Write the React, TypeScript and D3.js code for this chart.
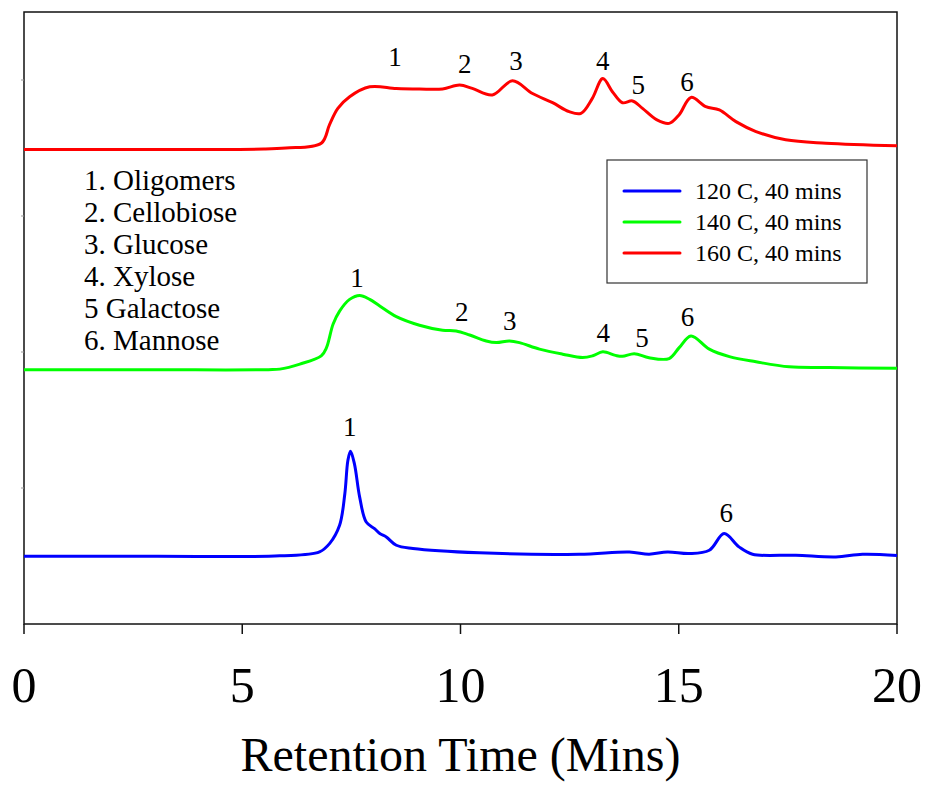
import React from "react";
import * as d3 from "d3";

// ---- data (retention time in minutes, detector signal in stacked units) ----
const redT = [0, 3, 5.5, 6.0, 6.81, 7.0, 7.19, 7.46, 7.92, 8.53, 9.06, 9.59, 9.98, 10.27, 10.73, 11.19, 11.65, 12.11, 12.49, 12.76, 13.02, 13.26, 13.48, 13.71, 13.94, 14.17, 14.49, 14.78, 15.01, 15.28, 15.62, 15.93, 16.31, 16.77, 17.45, 18.37, 20];
const redV = [3.489, 3.489, 3.492, 3.50, 3.535, 3.672, 3.791, 3.877, 3.950, 3.938, 3.934, 3.934, 3.963, 3.938, 3.890, 3.994, 3.901, 3.833, 3.767, 3.755, 3.865, 4.011, 3.914, 3.833, 3.846, 3.791, 3.709, 3.681, 3.745, 3.872, 3.804, 3.780, 3.694, 3.621, 3.560, 3.535, 3.516];

const greenT = [0, 3, 5.6, 5.86, 6.32, 6.81, 6.93, 7.08, 7.23, 7.46, 7.69, 7.92, 8.15, 8.53, 9.06, 9.59, 9.90, 10.21, 10.59, 10.82, 11.12, 11.35, 11.81, 12.34, 12.80, 13.03, 13.26, 13.55, 13.71, 13.98, 14.32, 14.78, 15.01, 15.28, 15.70, 16.16, 16.77, 17.53, 18.44, 20];
const greenV = [1.869, 1.869, 1.870, 1.874, 1.911, 1.972, 2.032, 2.204, 2.301, 2.387, 2.416, 2.387, 2.338, 2.260, 2.197, 2.160, 2.155, 2.125, 2.081, 2.069, 2.081, 2.069, 2.021, 1.984, 1.959, 1.972, 2.001, 1.975, 1.968, 1.988, 1.958, 1.952, 2.032, 2.118, 2.021, 1.966, 1.928, 1.891, 1.886, 1.880];

const blueT = [0, 3, 5.86, 6.77, 7.0, 7.23, 7.35, 7.42, 7.48, 7.57, 7.69, 7.84, 8.03, 8.15, 8.30, 8.53, 8.91, 10.43, 12.72, 13.87, 14.32, 14.74, 15.24, 15.70, 16.04, 16.38, 16.69, 17.68, 18.60, 19.21, 20];
const blueV = [0.498, 0.498, 0.501, 0.530, 0.591, 0.726, 0.958, 1.202, 1.270, 1.178, 0.933, 0.750, 0.701, 0.665, 0.640, 0.579, 0.555, 0.523, 0.513, 0.530, 0.513, 0.530, 0.518, 0.542, 0.665, 0.567, 0.513, 0.506, 0.493, 0.513, 0.504];

const seriesNames = ["120 C, 40 mins", "140 C, 40 mins", "160 C, 40 mins"];
const seriesColors = ["#0000ff", "#00ff00", "#ff0000"];

// peak labels: [time, signal-position, label]
const redPeaks: [number, number, string][] = [[8.5, 4.1, "1"], [10.1, 4.05, "2"], [11.27, 4.07, "3"], [13.26, 4.07, "4"], [14.07, 3.9, "5"], [15.19, 3.92, "6"]];
const greenPeaks: [number, number, string][] = [[7.63, 2.48, "1"], [10.03, 2.23, "2"], [11.13, 2.16, "3"], [13.27, 2.07, "4"], [14.16, 2.04, "5"], [15.2, 2.19, "6"]];
const bluePeaks: [number, number, string][] = [[7.46, 1.38, "1"], [16.09, 0.75, "6"]];

const keyItems = ["1. Oligomers", "2. Cellobiose", "3. Glucose", "4. Xylose", "5 Galactose", "6. Mannose"];
const xTicks = [0, 5, 10, 15, 20];
const yTicks = [1, 2, 3, 4];
const xTitle = "Retention Time (Mins)";

const W = 926, H = 785;
const L = 24, R = 897, T = 12, B = 624;
const FONT = "'Liberation Serif', 'Times New Roman', Times, serif";

export default function App() {
  const x = d3.scaleLinear().domain([0, 20]).range([L, R]);
  const y = d3.scaleLinear().domain([0, 4.5]).range([B, T]);
  const line = d3.line<[number, number]>().x(d => x(d[0])).y(d => y(d[1])).curve(d3.curveCatmullRom.alpha(0.5));
  const mk = (t: number[], v: number[]) => t.map((tt, i) => [tt, v[i]] as [number, number]);
  const series = [mk(blueT, blueV), mk(greenT, greenV), mk(redT, redV)];
  const peaks = [bluePeaks, greenPeaks, redPeaks];

  return (
    <svg width={W} height={H} style={{ position: "absolute", left: 0, top: 0, background: "#fff" }} fontFamily={FONT}>
      <rect x={0} y={0} width={W} height={H} fill="#fff" />
      {/* frame */}
      <rect x={L} y={T} width={R - L} height={B - T} fill="none" stroke="#111" strokeWidth={1.5} />
      {/* y ticks (tiny) */}
      {yTicks.map(t => (
        <line key={"yt" + t} x1={L - 3} x2={L} y1={y(t)} y2={y(t)} stroke="#999" strokeWidth={1} />
      ))}
      {/* x ticks */}
      {xTicks.map(t => (
        <g key={"xt" + t}>
          <line x1={x(t)} x2={x(t)} y1={B} y2={B + 10} stroke="#111" strokeWidth={1.5} />
          <text x={x(t)} y={702} textAnchor="middle" fontSize={50} fill="#000">{t}</text>
        </g>
      ))}
      <text x={(L + R) / 2} y={771} textAnchor="middle" fontSize={48} fill="#000">{xTitle}</text>

      {/* curves */}
      {series.map((s, i) => (
        <path key={"s" + i} d={line(s) || ""} fill="none" stroke={seriesColors[i]} strokeWidth={3} strokeLinejoin="round" />
      ))}
      {/* peak labels */}
      {peaks.map((p, i) => p.map((pk, j) => (
        <text key={"p" + i + "-" + j} x={x(pk[0])} y={y(pk[1])} textAnchor="middle" fontSize={27} fill="#000">{pk[2]}</text>
      )))}

      {/* key list */}
      {keyItems.map((k, i) => (
        <text key={"k" + i} x={84} y={190 + i * 32} fontSize={29} fill="#000">{k}</text>
      ))}

      {/* legend */}
      <rect x={607} y={160} width={260} height={123} fill="#fff" stroke="#333" strokeWidth={1.2} />
      {seriesNames.map((n, i) => (
        <g key={"lg" + i}>
          <line x1={624} x2={680} y1={191 + i * 31} y2={191 + i * 31} stroke={seriesColors[i]} strokeWidth={3} strokeLinecap="round" />
          <text x={695} y={199 + i * 31} fontSize={24} fill="#000">{n}</text>
        </g>
      ))}
    </svg>
  );
}
